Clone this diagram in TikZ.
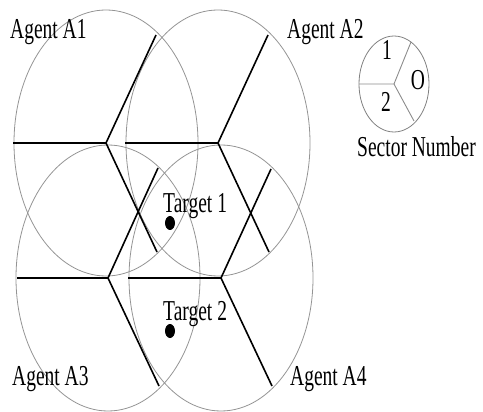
\documentclass[tikz,border=0pt]{standalone}
\usepackage{fontspec}
\setmainfont{Liberation Serif}
\usetikzlibrary{shapes.geometric}
\newcommand\stretchtxt[1]{\scalebox{1}[1.48]{#1}}
\begin{document}
\begin{tikzpicture}[x=1pt,y=-1pt,
  zone/.style={draw=black!42, line width=0.8pt},
  spoke/.style={draw=black, line width=1.6pt},
  lzone/.style={draw=black!50, line width=0.8pt},
  lspoke/.style={draw=black!45, line width=0.9pt},
  lbl/.style={anchor=base west, inner sep=0pt, font=\fontsize{19.5}{20}\selectfont},
  dot/.style={ellipse, fill=black, minimum width=10pt, minimum height=14pt, inner sep=0pt}]
\useasboundingbox (0,0) rectangle (483,412);
% agent centres
\coordinate (A1) at (106,143);
\coordinate (A2) at (218,143);
\coordinate (A3) at (108,278);
\coordinate (A4) at (221,278);
% coverage ellipses
\draw[zone] (A1) ellipse [x radius=92pt, y radius=133pt];
\draw[zone] (A2) ellipse [x radius=92pt, y radius=133pt];
\draw[zone] (A3) ellipse [x radius=92pt, y radius=133pt];
\draw[zone] (A4) ellipse [x radius=92pt, y radius=133pt];
% spoke ends
\coordinate (A1l) at (13,143);  \coordinate (A1u) at (156,35);  \coordinate (A1d) at (157,252);
\coordinate (A2l) at (125,143); \coordinate (A2u) at (268,35);  \coordinate (A2d) at (269,252);
\coordinate (A3l) at (17,278);  \coordinate (A3u) at (158,168); \coordinate (A3d) at (159,386);
\coordinate (A4l) at (128,278); \coordinate (A4u) at (271,169); \coordinate (A4d) at (272,386);
\foreach \a in {A1,A2,A3,A4}{
  \draw[spoke] (\a l) -- (\a) -- (\a u);
  \draw[spoke] (\a) -- (\a d);
}
% targets
\node[dot] (t1) at (170,223) {};
\node[dot] (t2) at (170,331) {};
\node[lbl] (t1l) at (163,213) {\stretchtxt{Target 1}};
\node[lbl] (t2l) at (163,320) {\stretchtxt{Target 2}};
% agent labels
\node[lbl] (l1) at (10,39) {\stretchtxt{Agent A1}};
\node[lbl] (l2) at (287,39) {\stretchtxt{Agent A2}};
\node[lbl] (l3) at (12,385) {\stretchtxt{Agent A3}};
\node[lbl] (l4) at (290,385) {\stretchtxt{Agent A4}};
% legend
\coordinate (S) at (394,84);
\draw[lzone] (S) ellipse [x radius=35pt, y radius=48pt];
\coordinate (Sl) at (359,84); \coordinate (Su) at (411,42); \coordinate (Sd) at (414,121);
\draw[lspoke] (Sl) -- (S) -- (Su);
\draw[lspoke] (S) -- (Sd);
\node[lbl, anchor=base] (s1) at (387,60) {\stretchtxt{1}};
\node[lbl, anchor=base] (s0) at (418,90) {\stretchtxt{O}};
\node[lbl, anchor=base] (s2) at (386,112) {\stretchtxt{2}};
\node[lbl] (sn) at (357,157) {\stretchtxt{Sector Number}};
\end{tikzpicture}
\end{document}
